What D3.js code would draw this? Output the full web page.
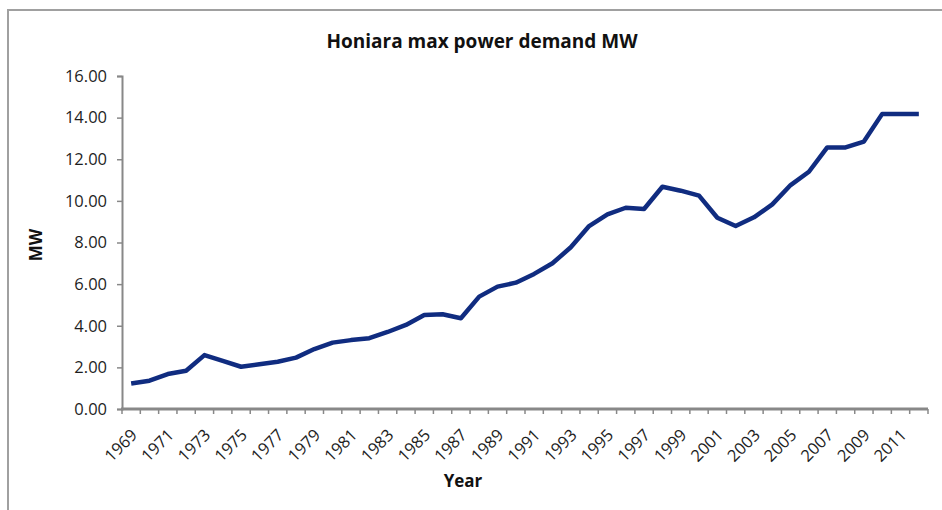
<!DOCTYPE html>
<html>
<head>
<meta charset="utf-8">
<script src="https://cdn.jsdelivr.net/npm/d3@7"></script>
<style>
  html, body { margin: 0; padding: 0; background: #fff; }
  svg { display: block; font-family: "Open Sans", sans-serif; }
</style>
</head>
<body>
<div id="chart"></div>
<script>
// data
var years = d3.range(1969, 2013);
var demand = [
  1.23, 1.36, 1.68, 1.84, 2.59, 2.31, 2.03, 2.15, 2.27, 2.47,
  2.88, 3.19, 3.31, 3.40, 3.70, 4.04, 4.52, 4.55, 4.36, 5.40,
  5.88, 6.07, 6.49, 7.00, 7.77, 8.79, 9.35, 9.67, 9.61, 10.68,
  10.49, 10.25, 9.19, 8.79, 9.21, 9.83, 10.76, 11.40, 12.57, 12.57,
  12.85, 14.18, 14.18, 14.18
];
var yTicks = [0, 2, 4, 6, 8, 10, 12, 14, 16];
var xLabels = years.filter(function(d) { return (d - 1969) % 2 === 0; });

var w = 942, h = 510;
var plotLeft = 122, plotRight = 928, plotTop = 76, plotBottom = 409;
var axisColour = "#888888";
var textColour = "#1e1e1e";

var svg = d3.select("#chart").append("svg")
  .attr("width", w)
  .attr("height", h);

// chart frame (only top and left edges show)
svg.append("path")
  .attr("d", "M8," + h + "V10H" + w)
  .attr("fill", "none")
  .attr("stroke", "#a0a0a0")
  .attr("stroke-width", 2);

var xScale = d3.scaleBand()
  .domain(years)
  .range([plotLeft, plotRight])
  .padding(0);

var yScale = d3.scaleLinear()
  .domain([0, 16])
  .range([plotBottom, plotTop]);

// y axis
var yAxis = d3.axisLeft(yScale)
  .tickValues(yTicks)
  .tickFormat(d3.format(".2f"))
  .tickSize(5)
  .tickPadding(10);

var gy = svg.append("g")
  .attr("transform", "translate(" + plotLeft + ",0)")
  .call(yAxis);
gy.select(".domain").attr("stroke", axisColour).attr("stroke-width", 2);
gy.selectAll(".tick line").attr("stroke", axisColour).attr("stroke-width", 1.5);
gy.selectAll(".tick text")
  .attr("fill", textColour)
  .attr("font-family", "Open Sans, sans-serif")
  .attr("font-size", "16.5px");

// x axis: ticks between categories, labels every other year
var gx = svg.append("g")
  .attr("transform", "translate(0," + plotBottom + ")");
gx.append("line")
  .attr("x1", plotLeft - 1)
  .attr("x2", plotRight)
  .attr("stroke", axisColour)
  .attr("stroke-width", 3);
gx.selectAll(".xtick")
  .data(years.concat([2013]))
  .enter()
  .append("line")
  .attr("class", "xtick")
  .attr("x1", function(d) { return d === 2013 ? plotRight : xScale(d); })
  .attr("x2", function(d) { return d === 2013 ? plotRight : xScale(d); })
  .attr("y1", 0)
  .attr("y2", 5)
  .attr("stroke", axisColour)
  .attr("stroke-width", 1.5);
gx.selectAll(".xlabel")
  .data(xLabels)
  .enter()
  .append("text")
  .attr("class", "xlabel")
  .attr("transform", function(d) {
    return "translate(" + (xScale(d) + xScale.bandwidth() / 2 + 3) + ",23) rotate(-45)";
  })
  .attr("text-anchor", "end")
  .attr("dy", "0.35em")
  .attr("fill", textColour)
  .attr("font-size", "16.5px")
  .text(function(d) { return d; });

// line
var line = d3.line()
  .x(function(d, i) { return xScale(years[i]) + xScale.bandwidth() / 2; })
  .y(function(d) { return yScale(d); });

svg.append("path")
  .datum(demand)
  .attr("d", line)
  .attr("fill", "none")
  .attr("stroke", "#102c80")
  .attr("stroke-width", 4.5)
  .attr("stroke-linejoin", "round");

// titles
svg.append("text")
  .attr("x", 482)
  .attr("y", 48)
  .attr("text-anchor", "middle")
  .attr("font-size", "19px")
  .attr("font-weight", "bold")
  .attr("fill", "#111")
  .text("Honiara max power demand MW");

svg.append("text")
  .attr("transform", "translate(42,245) rotate(-90)")
  .attr("text-anchor", "middle")
  .attr("font-size", "17px")
  .attr("font-weight", "bold")
  .attr("fill", "#111")
  .text("MW");

svg.append("text")
  .attr("x", 463)
  .attr("y", 487)
  .attr("text-anchor", "middle")
  .attr("font-size", "17px")
  .attr("font-weight", "bold")
  .attr("fill", "#111")
  .text("Year");
</script>
</body>
</html>
